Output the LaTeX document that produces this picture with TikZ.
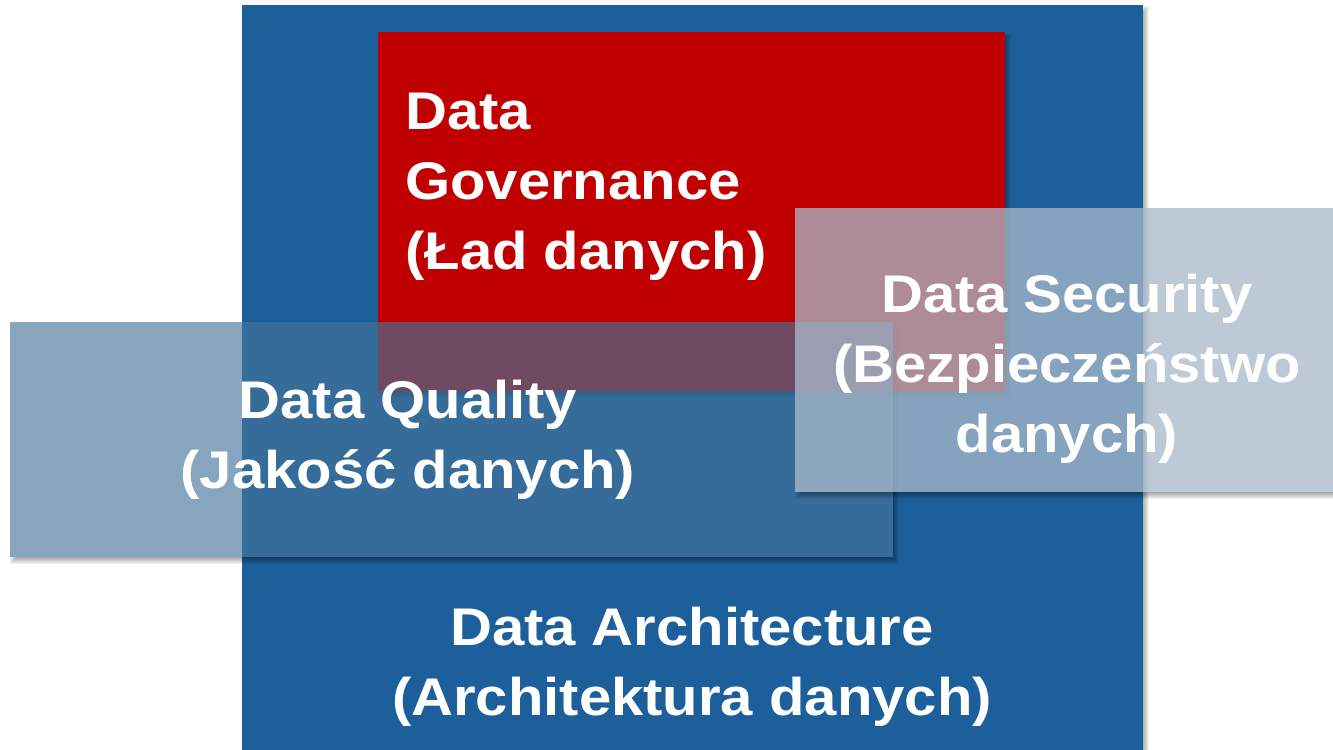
\documentclass[tikz,border=0pt]{standalone}
\usepackage{fontspec}
\setmainfont{Liberation Sans}[FakeStretch=1.095]
\usepackage{tikz}
\usetikzlibrary{positioning}
\definecolor{archBlue}{RGB}{28,95,155}
\definecolor{govRed}{RGB}{192,0,0}
\definecolor{qualBlue}{RGB}{69,116,154}
\definecolor{secBlue}{RGB}{168,186,202}
\tikzset{
	areaText/.style={text=white,font=\bfseries\fontsize{39.75}{52.5}\selectfont,inner sep=0pt,anchor=base},
	shade layer/.style={fill=black,opacity=0.055}
}
\newcommand{\tikzShadow}[4]{\foreach \e in {-3,...,3}{\fill[shade layer] ({#1+3-\e},{#2+4-\e}) rectangle ({#3+3+\e},{#4+4+\e});}}

\begin{document}
\begin{tikzpicture}[x=0.75pt,y=-0.75pt]
	\fill[white] (0,0) rectangle (1333,749);
	\useasboundingbox (0,0) rectangle (1333,749);
	\clip (0,0) rectangle (1333,749);
	
	% architecture
	\tikzShadow{242}{5}{1143}{760}
	\fill[archBlue] (242,5) rectangle (1143,760);
	
	% governance
	\tikzShadow{378}{32}{1005}{391}
	\fill[govRed] (378,32) rectangle (1005,391);
	\node (gov) [areaText,align=left,anchor=base west] at (405,269) {Data\\Governance\\(Ład danych)};
	
	% quality
	\begin{scope}[even odd rule]
		\clip (0,0) rectangle (1333,749) (10,322) rectangle (893,557);
		\tikzShadow{10}{322}{893}{557}
	\end{scope}
	\fill[qualBlue,opacity=0.645] (10,322) rectangle (893,557);
	\node (qual) [areaText,align=center] at (408,488) {Data Quality\\(Jakość danych)};
	
	% security
	\begin{scope}[even odd rule]
		\clip (0,0) rectangle (1333,749) (795,208) rectangle (1345,492);
		\tikzShadow{795}{208}{1345}{492}
	\end{scope}
	\fill[secBlue,opacity=0.755] (795,208) rectangle (1345,492);
	\node (sec) [areaText,align=center] at (1067,452) {Data Security\\(Bezpieczeństwo\\danych)};
	
	\node (arch) [areaText,align=center] at (692,715) {Data Architecture\\(Architektura danych)};
\end{tikzpicture}
\end{document}
